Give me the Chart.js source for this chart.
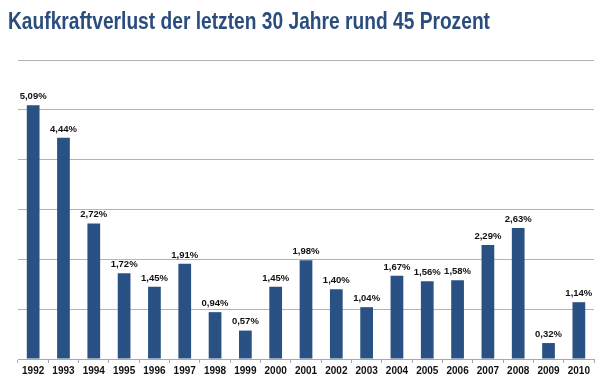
<!DOCTYPE html>
<html>
<head>
<meta charset="utf-8">
<script src="https://cdn.jsdelivr.net/npm/chart.js@4"></script>
<style>
html,body{margin:0;padding:0;background:#fff;}
canvas{display:block;}
</style>
</head>
<body>
<canvas id="c" width="603" height="383"></canvas>
<script>
const titleText = "Kaufkraftverlust der letzten 30 Jahre rund 45 Prozent";
const years = ["1992","1993","1994","1995","1996","1997","1998","1999","2000","2001","2002","2003","2004","2005","2006","2007","2008","2009","2010"];
const lossPercent = [5.09,4.44,2.72,1.72,1.45,1.91,0.94,0.57,1.45,1.98,1.40,1.04,1.67,1.56,1.58,2.29,2.63,0.32,1.14];
const yTicks = [0,1,2,3,4,5,6];

// condensed bold title drawn as canvas text
const condensedTitle = {
  id: 'condensedTitle',
  afterDraw(chart) {
    const ctx = chart.ctx;
    ctx.save();
    ctx.font = 'bold 23px "Liberation Sans", Arial, sans-serif';
    ctx.fillStyle = '#2b4d7e';
    ctx.textAlign = 'left';
    ctx.textBaseline = 'alphabetic';
    const w = ctx.measureText(titleText).width;
    const targetW = 482;
    ctx.translate(8, 29);
    ctx.scale(targetW / w, 1);
    ctx.fillText(titleText, 0, 0);
    ctx.restore();
  }
};

const valueLabels = {
  id: 'valueLabels',
  afterDatasetsDraw(chart) {
    const ctx = chart.ctx;
    const meta = chart.getDatasetMeta(0);
    ctx.save();
    ctx.font = 'bold 9.5px "Liberation Sans", Arial, sans-serif';
    ctx.fillStyle = '#111';
    ctx.textAlign = 'center';
    ctx.textBaseline = 'bottom';
    meta.data.forEach((bar, i) => {
      const txt = lossPercent[i].toFixed(2).replace('.', ',') + '%';
      ctx.fillText(txt, bar.x, bar.y - 4);
    });
    ctx.restore();
  }
};

new Chart(document.getElementById('c'), {
  type: 'bar',
  data: {
    labels: years,
    datasets: [{
      data: lossPercent,
      backgroundColor: '#2a5183',
      borderWidth: 0,
      barPercentage: 0.84,
      categoryPercentage: 0.5
    }]
  },
  options: {
    responsive: false,
    animation: false,
    devicePixelRatio: 1,
    layout: { padding: { left: 18, right: 9, top: 60, bottom: 4 } },
    plugins: {
      legend: { display: false },
      tooltip: { enabled: false },
      title: { display: false }
    },
    scales: {
      x: {
        grid: { display: true, drawOnChartArea: false, drawTicks: true, tickLength: 4, color: '#a8a8a8', offset: true },
        border: { display: true, color: '#a8a8a8', width: 1 },
        ticks: {
          color: '#111',
          padding: 2,
          font: { family: '"Liberation Sans", Arial, sans-serif', size: 10, weight: 'bold' }
        }
      },
      y: {
        min: yTicks[0],
        max: yTicks[yTicks.length - 1],
        afterBuildTicks(scale) { scale.ticks = yTicks.map(v => ({ value: v })); },
        ticks: { display: false },
        grid: { color: '#b4b4b4', drawTicks: false, lineWidth: 1 },
        border: { display: false }
      }
    }
  },
  plugins: [valueLabels, condensedTitle]
});
</script>
</body>
</html>
